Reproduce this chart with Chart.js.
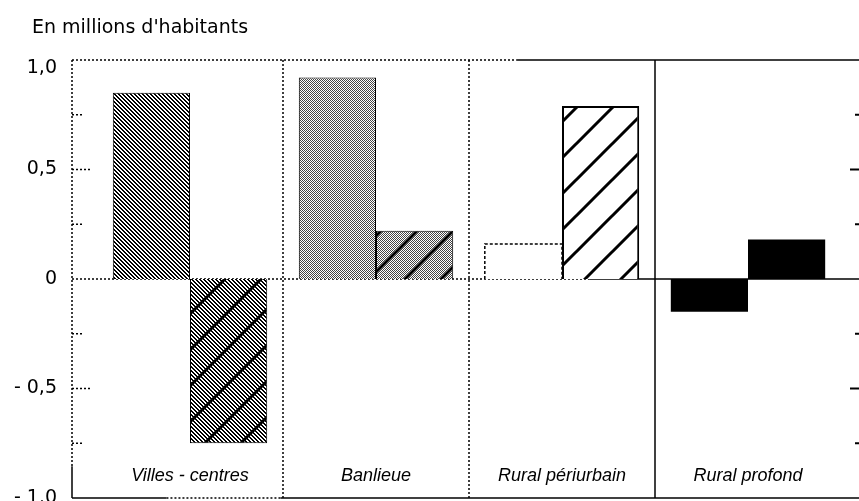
<!DOCTYPE html>
<html>
<head>
<meta charset="utf-8">
<script src="https://cdn.jsdelivr.net/npm/chart.js@4"></script>
<style>
  html, body { margin: 0; padding: 0; background: #fff; overflow: hidden; }
  #wrap { position: relative; width: 859px; height: 501px; }
  #unit { position: absolute; left: 32px; top: 15px; font: 19px "DejaVu Sans"; line-height: 22px; color: #000; }
</style>
</head>
<body>
<div id="wrap">
  <canvas id="myChart"></canvas>
  <div id="unit"></div>
</div>
<script>
const unitLabel = "En millions d'habitants";
const categories = ["Villes - centres", "Banlieue", "Rural périurbain", "Rural profond"];
const serieA = [0.85, 0.92, 0.16, -0.15];
const serieB = [-0.75, 0.22, 0.79, 0.18];
const yTickLabels = ["- 1,0", "- 0,5", "0", "0,5", "1,0"];

document.getElementById("unit").textContent = unitLabel;

// little tiles used as bar fills
function makeFill(base, stripes) {
  const size = 36;
  const c = document.createElement("canvas");
  c.width = size; c.height = size;
  const g = c.getContext("2d");
  g.fillStyle = "#fff";
  g.fillRect(0, 0, size, size);
  g.fillStyle = base === "dots" ? "#444" : "#000";
  for (let y = 0; y < size; y++) {
    for (let x = 0; x < size; x++) {
      let on = false;
      if (base === "hatch") on = (((x - y) % 4) + 4) % 4 < 2;
      if (base === "dots") on = (x + y) % 2 === 0;
      if (on) g.fillRect(x, y, 1, 1);
    }
  }
  if (stripes) {
    g.strokeStyle = "#000";
    g.lineWidth = 3;
    g.beginPath();
    [0, size, size * 2].forEach(k => {
      g.moveTo(k + 4, -4);
      g.lineTo(-4, k + 4);
    });
    g.stroke();
  }
  return g.createPattern(c, "repeat");
}

const fillsA = [makeFill("hatch"), makeFill("dots"), "#fff", "#000"];
const fillsB = [makeFill("hatch", true), makeFill("dots", true), makeFill(null, true), "#000"];

// frame sits a bit outside the category band
const frame = {
  id: "frame",
  beforeDatasetsDraw(chart) {
    const { ctx, chartArea: a, scales: { x, y } } = chart;
    const seg = (x1, y1, x2, y2, dotted, w) => {
      ctx.save();
      ctx.strokeStyle = "#000";
      ctx.lineWidth = w || 1.5;
      ctx.setLineDash(dotted ? [2, 2] : []);
      ctx.beginPath();
      ctx.moveTo(x1, y1);
      ctx.lineTo(x2, y2);
      ctx.stroke();
      ctx.restore();
    };
    const L = a.left - 25, R = chart.width;
    const W = R - L;
    const top = y.getPixelForValue(1);
    const zero = y.getPixelForValue(0);
    const bottom = y.getPixelForValue(-1);

    seg(L, top, L + 0.565 * W, top, true);
    seg(L + 0.565 * W, top, R, top, false);
    seg(L, zero, L + 0.658 * W, zero, true);
    seg(L + 0.658 * W, zero, R, zero, false);
    seg(L, bottom, L + 0.12 * W, bottom, false);
    seg(L + 0.12 * W, bottom, L + 0.265 * W, bottom, true);
    seg(L + 0.265 * W, bottom, R, bottom, false);

    const ySolid = y.getPixelForValue(-0.855);
    seg(L, top, L, ySolid, true);
    seg(L, ySolid, L, bottom, false);

    for (let i = 0; i < categories.length - 1; i++) {
      const px = (x.getPixelForValue(i) + x.getPixelForValue(i + 1)) / 2;
      seg(px, top, px, bottom, i < 2);
    }

    [0.75, 0.5, 0.25, -0.25, -0.5, -0.75].forEach(v => {
      const py = y.getPixelForValue(v);
      const major = Math.abs(v) === 0.5;
      seg(L, py, L + (major ? 20 : 10), py, true);
      seg(R - (major ? 9 : 4), py, R, py, false, 2);
    });

    // category names sit inside the plot, near the bottom
    ctx.save();
    ctx.fillStyle = "#000";
    ctx.font = "italic 18px 'Liberation Sans'";
    ctx.textAlign = "center";
    ctx.textBaseline = "middle";
    categories.forEach((name, i) => {
      ctx.fillText(name, x.getPixelForValue(i), y.getPixelForValue(-0.9));
    });
    ctx.restore();
  }
};

// the white bar has a dashed outline
const dashedBar = {
  id: "dashedBar",
  afterDatasetsDraw(chart) {
    const ctx = chart.ctx;
    const el = chart.getDatasetMeta(0).data[2];
    const { x, y, base, width } = el.getProps(["x", "y", "base", "width"], true);
    ctx.save();
    ctx.strokeStyle = "#000";
    ctx.lineWidth = 1.5;
    ctx.setLineDash([3, 2]);
    ctx.beginPath();
    ctx.moveTo(x - width / 2, base);
    ctx.lineTo(x - width / 2, y);
    ctx.lineTo(x + width / 2, y);
    ctx.lineTo(x + width / 2, base);
    ctx.stroke();
    ctx.restore();
  }
};

const ctx = document.getElementById("myChart");
new Chart(ctx, {
  type: "bar",
  data: {
    labels: categories,
    datasets: [
      { label: "Série 1", data: serieA, backgroundColor: fillsA, borderColor: "#000", borderWidth: [1, 1, 0, 0], categoryPercentage: 0.83, barPercentage: 1 },
      { label: "Série 2", data: serieB, backgroundColor: fillsB, borderColor: "#000", borderWidth: [1, 1, 2, 0], categoryPercentage: 0.83, barPercentage: 1 }
    ]
  },
  options: {
    responsive: true,
    maintainAspectRatio: false,
    animation: false,
    layout: { padding: { top: 60, right: 18, bottom: 0, left: 0 } },
    plugins: {
      legend: { display: false },
      title: { display: false },
      tooltip: { enabled: false }
    },
    scales: {
      x: {
        grid: { display: false, drawTicks: false },
        border: { display: false },
        ticks: { display: false },
        afterFit: s => { s.height = 3; s.paddingLeft = 0; s.paddingRight = 0; }
      },
      y: {
        min: -1,
        max: 1,
        grid: { display: false, drawTicks: false },
        border: { display: false },
        ticks: {
          stepSize: 0.5,
          padding: 40,
          color: "#000",
          font: { family: "DejaVu Sans", size: 19, lineHeight: 0.9 },
          callback: (v, i) => i === yTickLabels.length - 1 ? ["", yTickLabels[i]] : yTickLabels[i]
        },
        afterFit: s => { s.width = 97; s.paddingTop = 0; s.paddingBottom = 0; }
      }
    }
  },
  plugins: [frame, dashedBar]
});
</script>
</body>
</html>
